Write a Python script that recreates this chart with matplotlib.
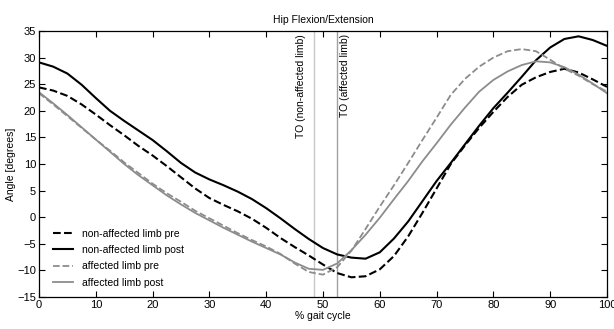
import matplotlib
matplotlib.use('Agg')
import matplotlib.pyplot as plt

plt.rcParams['font.family'] = ['Liberation Sans', 'DejaVu Sans']

# % gait cycle
gait = [0, 2.5, 5, 7.5, 10, 12.5, 15, 17.5, 20, 22.5, 25, 27.5, 30, 32.5, 35,
        37.5, 40, 42.5, 45, 47.5, 50, 52.5, 55, 57.5, 60, 62.5, 65, 67.5, 70,
        72.5, 75, 77.5, 80, 82.5, 85, 87.5, 90, 92.5, 95, 97.5, 100]

non_affected_pre = [24.4, 23.8, 22.8, 21.2, 19.3, 17.3, 15.4, 13.4, 11.6, 9.6,
                    7.5, 5.4, 3.6, 2.3, 1.1, -0.3, -2.0, -3.9, -5.6, -7.2,
                    -8.9, -10.5, -11.3, -11.1, -9.8, -7.3, -3.6, 0.8, 5.4,
                    10.0, 13.5, 16.8, 19.8, 22.6, 24.9, 26.3, 27.3, 27.9,
                    27.2, 25.9, 24.5]

non_affected_post = [29.1, 28.3, 27.0, 24.9, 22.4, 20.0, 18.1, 16.3, 14.5,
                     12.4, 10.2, 8.4, 7.1, 6.0, 4.8, 3.4, 1.7, -0.2, -2.2,
                     -4.1, -5.8, -7.0, -7.6, -7.8, -6.6, -4.0, -0.8, 3.0,
                     6.8, 10.2, 13.7, 17.2, 20.5, 23.4, 26.4, 29.5, 31.9,
                     33.5, 34.0, 33.3, 32.2]

affected_pre = [23.3, 21.2, 19.0, 16.8, 14.6, 12.5, 10.3, 8.3, 6.3, 4.5, 2.9,
                1.2, -0.2, -1.6, -3.0, -4.3, -5.5, -6.9, -8.7, -10.3, -10.8,
                -9.4, -6.3, -2.2, 2.0, 6.0, 10.2, 14.5, 18.7, 23.0, 26.0,
                28.3, 30.0, 31.2, 31.6, 31.2, 29.6, 27.9, 26.6, 25.0, 23.6]

affected_post = [23.5, 21.4, 19.2, 16.9, 14.6, 12.3, 10.0, 7.9, 6.0, 4.1, 2.4,
                 0.8, -0.6, -2.0, -3.3, -4.6, -5.8, -7.0, -8.5, -9.7, -9.9,
                 -8.7, -6.2, -3.3, -0.1, 3.4, 6.8, 10.5, 13.9, 17.4, 20.6,
                 23.6, 25.8, 27.4, 28.6, 29.3, 29.1, 28.2, 26.8, 25.1, 23.3]

# toe-off events
to_x = [48.5, 52.4]
to_labels = ['TO (non-affected limb)', 'TO (affected limb)']

fig = plt.figure(figsize=(6.14, 3.29), dpi=100)
ax = fig.add_axes([0.0635, 0.0973, 0.9251, 0.8085])

ax.axvline(to_x[0], color='#c8c8c8', lw=1.0, zorder=1)
ax.axvline(to_x[1], color='#a0a0a0', lw=1.0, zorder=1)
ax.text(to_x[0] - 2.3, 34.4, to_labels[0], rotation=90, ha='center',
        va='top', fontsize=7.5)
ax.text(to_x[1] + 1.5, 34.4, to_labels[1], rotation=90, ha='center',
        va='top', fontsize=7.5)

ax.plot(gait, non_affected_pre, color='black', ls='--', lw=1.5,
        label='non-affected limb pre')
ax.plot(gait, non_affected_post, color='black', ls='-', lw=1.5,
        label='non-affected limb post')
ax.plot(gait, affected_pre, color='#8c8c8c', ls='--', lw=1.3,
        label='affected limb pre')
ax.plot(gait, affected_post, color='#8c8c8c', ls='-', lw=1.3,
        label='affected limb post')

ax.set_xlim(0, 100)
ax.set_ylim(-15, 35)
ax.set_xticks(range(0, 101, 10))
ax.set_yticks(range(-15, 36, 5))
ax.tick_params(direction='in', top=True, right=True, length=4,
               labelsize=8, width=0.8, pad=2)
for s in ax.spines.values():
    s.set_linewidth(0.9)

ax.set_title('Hip Flexion/Extension', fontsize=7.5, pad=6)
ax.set_xlabel('% gait cycle', fontsize=7.5, labelpad=1)
ax.set_ylabel('Angle [degrees]', fontsize=7.5, labelpad=1)

ax.legend(loc='lower left', frameon=False, fontsize=7.5,
          handlelength=1.9, handletextpad=0.9, labelspacing=0.6,
          bbox_to_anchor=(0.008, 0.0))

fig.savefig('out.png', dpi=100)
